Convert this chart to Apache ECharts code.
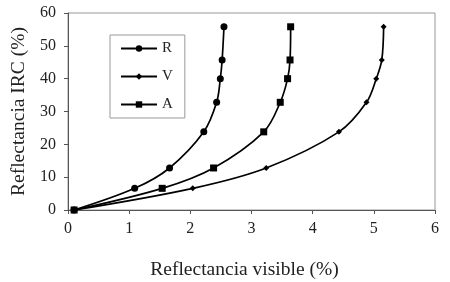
<!DOCTYPE html>
<html>
<head>
<meta charset="utf-8">
<script src="https://cdn.jsdelivr.net/npm/echarts@6/dist/echarts.min.js"></script>
<style>
  html, body { margin: 0; padding: 0; background: #fff; }
  #chart { width: 450px; height: 282px; }
</style>
</head>
<body>
<div id="chart"></div>
<script>
// valores (reflectancia IRC comun a las tres curvas)
var irc = [0, 6.6, 12.8, 23.8, 32.8, 40, 45.7, 55.8];
var visR = [0.1, 1.09, 1.66, 2.22, 2.43, 2.49, 2.52, 2.55];
var visV = [0.1, 2.04, 3.24, 4.43, 4.88, 5.04, 5.13, 5.16];
var visA = [0.1, 1.54, 2.38, 3.2, 3.47, 3.59, 3.63, 3.64];
var names = ['R', 'V', 'A'];

function pares(xs) {
    return xs.map(function (x, i) { return [x, irc[i]]; });
}

var fuente = '"Liberation Serif", "DejaVu Serif", serif';
var chart = echarts.init(document.getElementById('chart'));

function serie(nombre, xs, simbolo, tam) {
    return {
        name: nombre,
        type: 'line',
        data: pares(xs),
        smooth: 0.35,
        symbol: simbolo,
        symbolSize: tam,
        showAllSymbol: true,
        lineStyle: { color: '#000', width: 1.7 },
        itemStyle: { color: '#000' }
    };
}

chart.setOption({
    animation: false,
    grid: {
        left: 68, right: 15, top: 13, bottom: 72,
        outerBoundsMode: 'none',
        show: true,
        borderColor: '#999',
        borderWidth: 1
    },
    legend: {
        orient: 'vertical',
        left: 110, top: 35,
        itemWidth: 36, itemHeight: 8,
        itemGap: 13,
        padding: [6, 12, 6, 10],
        backgroundColor: '#fff',
        borderColor: '#999',
        borderWidth: 1,
        data: names,
        textStyle: { fontFamily: fuente, fontSize: 15, color: '#222' }
    },
    xAxis: {
        type: 'value',
        min: 0, max: 6, interval: 1,
        name: 'Reflectancia visible (%)',
        nameLocation: 'middle',
        nameGap: 50,
        nameTextStyle: { fontFamily: fuente, fontSize: 19.5, color: '#222', padding: [0, 14, 0, 0] },
        axisLine: { lineStyle: { color: '#555' } },
        axisTick: { show: true, length: 4, lineStyle: { color: '#555' } },
        axisLabel: { fontFamily: fuente, fontSize: 16, color: '#222', margin: 11 },
        splitLine: { show: false }
    },
    yAxis: {
        type: 'value',
        min: 0, max: 60, interval: 10,
        name: 'Reflectancia IRC (%)',
        nameLocation: 'middle',
        nameGap: 38,
        nameTextStyle: { fontFamily: fuente, fontSize: 19.5, color: '#222' },
        axisLine: { show: true, lineStyle: { color: '#555' } },
        axisTick: { show: true, length: 4, lineStyle: { color: '#555' } },
        axisLabel: { fontFamily: fuente, fontSize: 16, color: '#222', margin: 12 },
        splitLine: { show: false }
    },
    series: [
        serie('R', visR, 'circle', 7),
        serie('V', visV, 'diamond', 6),
        serie('A', visA, 'rect', 7)
    ]
});
</script>
</body>
</html>
